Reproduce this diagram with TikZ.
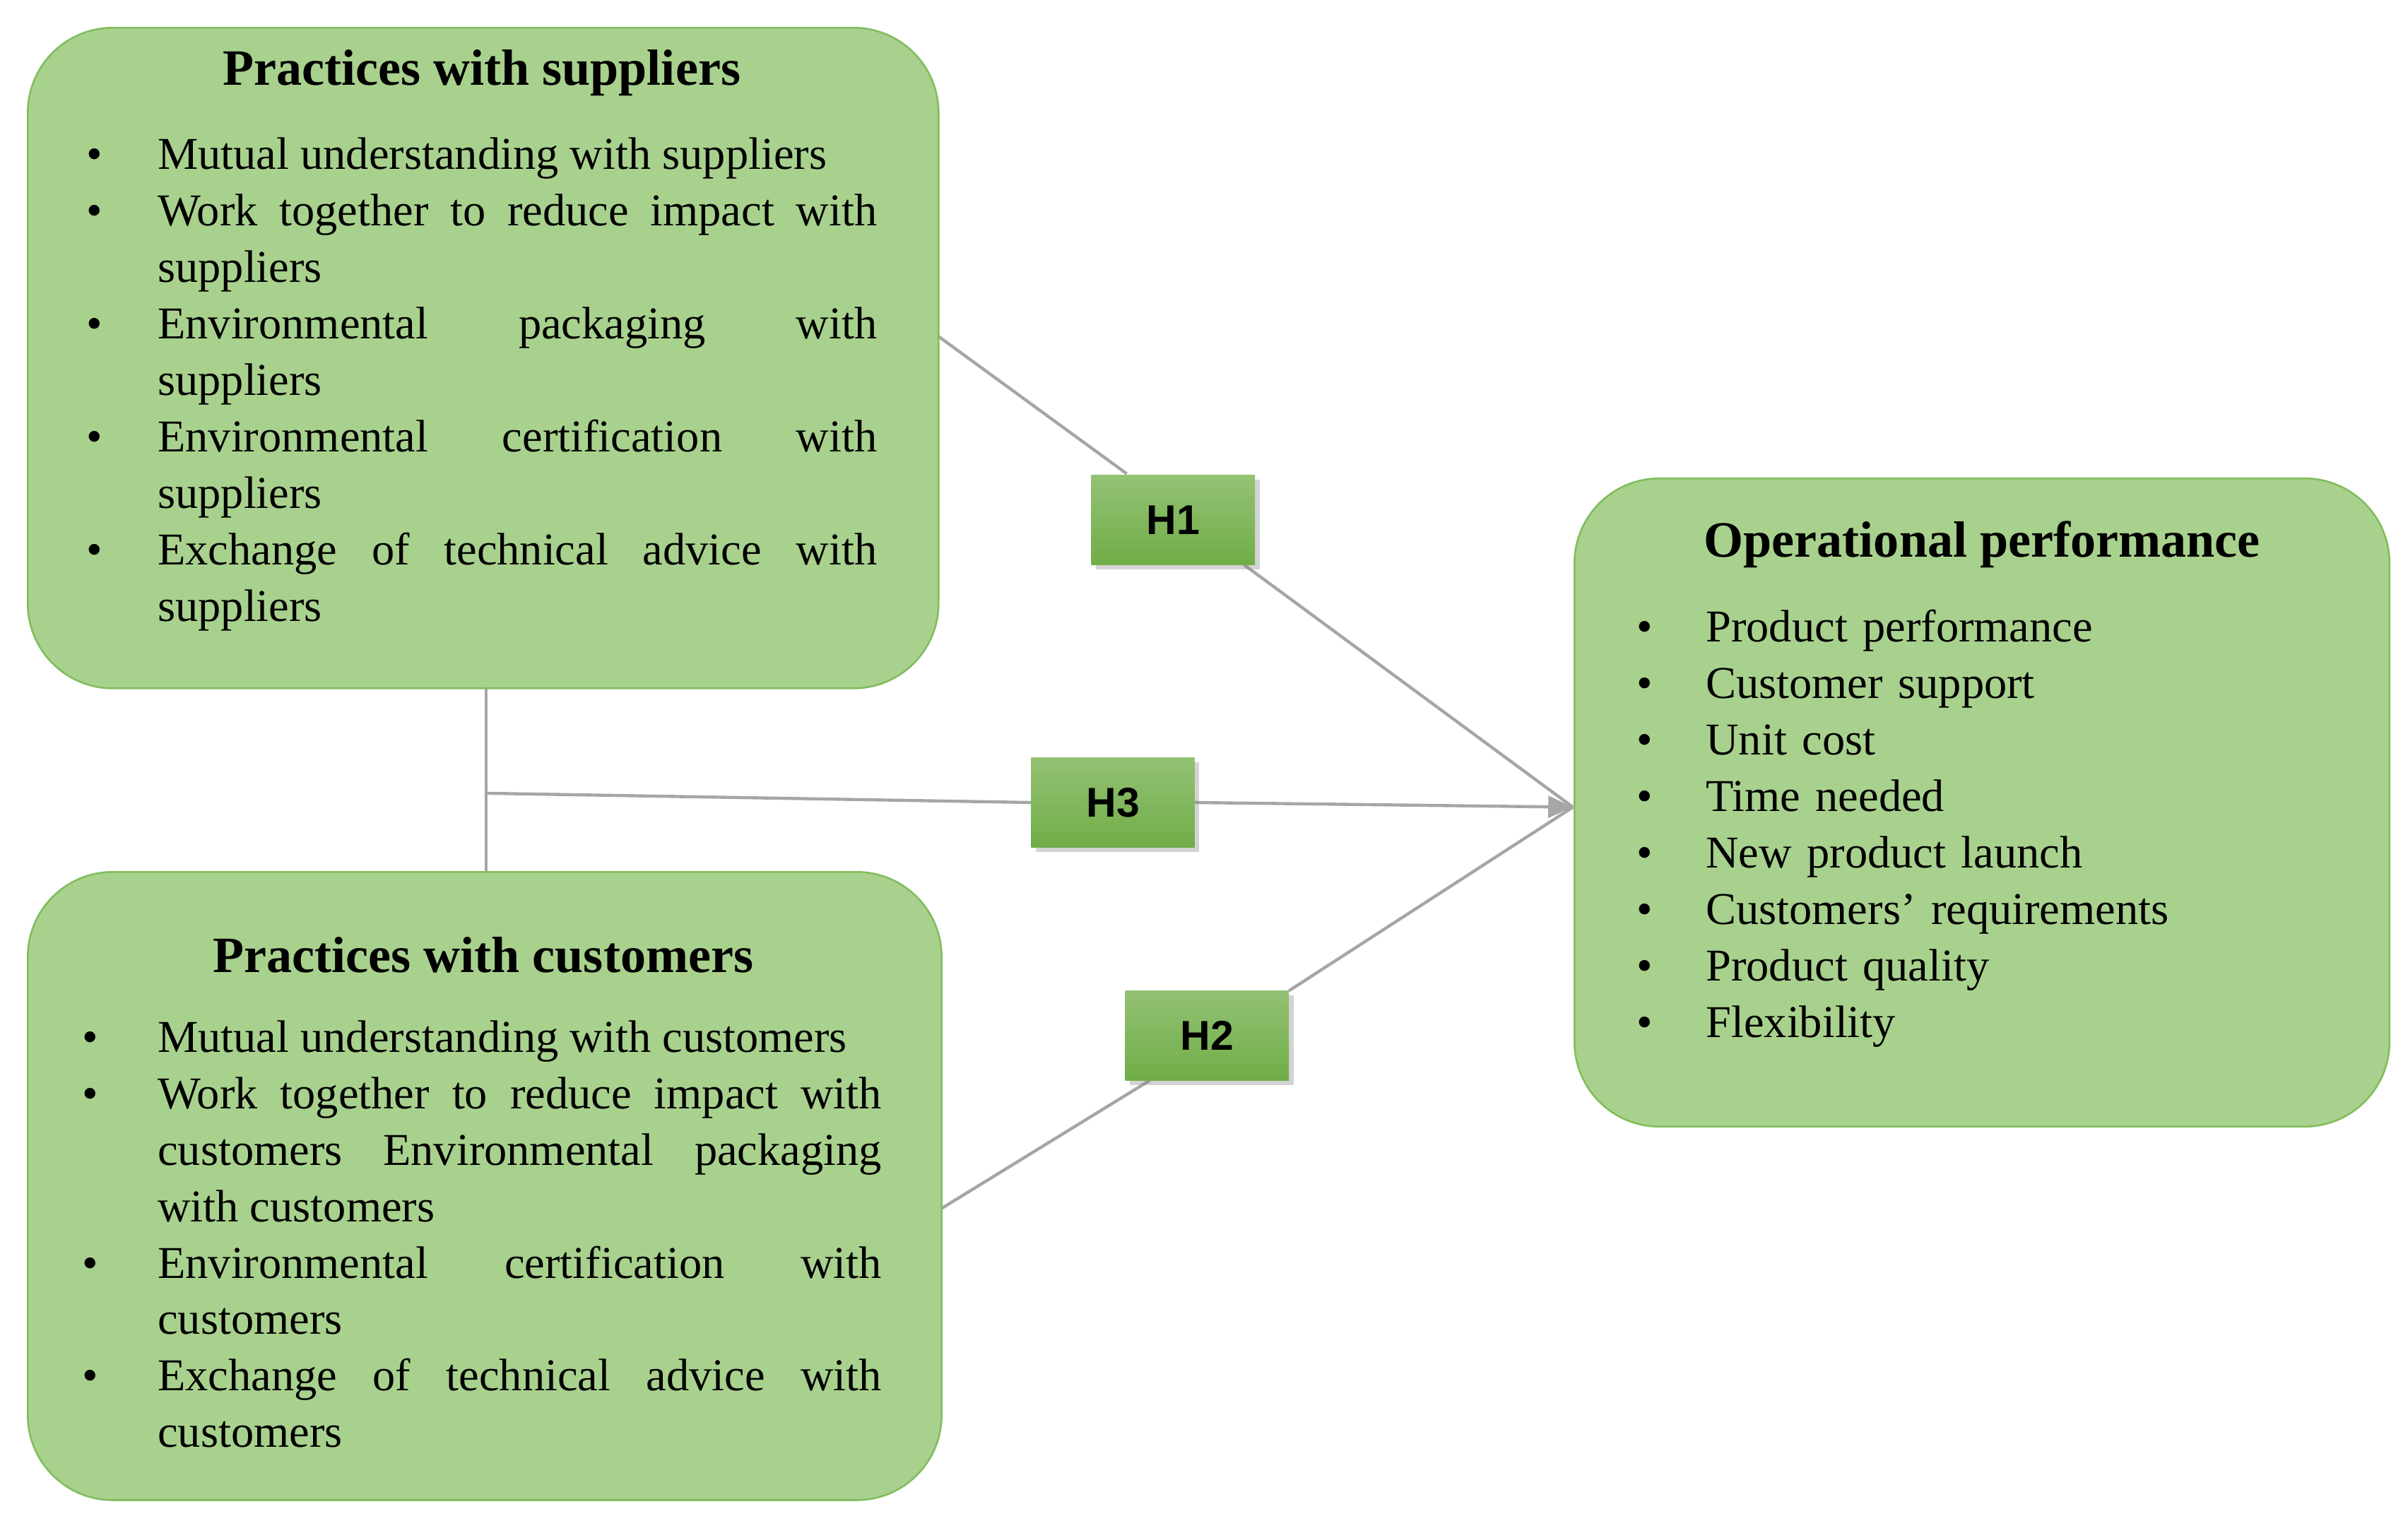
\documentclass[tikz,border=0pt]{standalone}
\usepackage{fontspec}
\setmainfont{Liberation Serif}
\newfontfamily\hfont{Liberation Sans}
\usetikzlibrary{shadows,arrows.meta,backgrounds}
\definecolor{boxfill}{HTML}{A9D18E}
\definecolor{boxline}{HTML}{82BD5E}
\definecolor{hfill}{HTML}{70AD47}
\definecolor{lnc}{HTML}{A6A6A6}
\newcommand{\nohy}{\hyphenpenalty=10000 \exhyphenpenalty=10000 }
\newcommand{\bit}[2][48pt]{\hangindent=#1\hangafter=1\noindent\makebox[#1][l]{\hspace{2pt}\textbullet}#2\par}
\tikzset{
 big/.style={draw=boxline,line width=1.2pt,fill=boxfill,rounded corners=55pt},
 hb/.style={draw=none,fill=hfill,minimum width=106pt,minimum height=58pt,inner sep=0pt,
   font=\hfont\bfseries\fontsize{27}{30}\selectfont,drop shadow={opacity=0.35,shadow xshift=3pt,shadow yshift=-3pt},
   top color=hfill!75!white,bottom color=hfill},
 ln/.style={draw=lnc,line width=2pt},
 ttl/.style={font=\bfseries\fontsize{33}{38}\selectfont},
 txt/.style={anchor=north west,inner sep=0pt,align=justify,font=\fontsize{29.5}{36.6}\selectfont}
}
\begin{document}
\begin{tikzpicture}[x=1pt,y=-1pt]
\useasboundingbox (0,0) rectangle (1560,982);
% boxes
\path[big] (18,18) rectangle (608,446);
\path[big] (18,565) rectangle (610,972);
\path[big] (1020,310) rectangle (1548,730);
% titles
\node[ttl] (ts) at (312,47) {Practices with suppliers};
\node[ttl] (tc) at (313,619) {Practices with customers};
\node[ttl] (to) at (1284,353) {Operational performance};
% lists
\node[txt,text width=514pt] (ls) at (54,89) {\nohy
\bit{Mutual understanding with suppliers}
\bit{Work together to reduce impact with suppliers}
\bit{Environmental packaging with suppliers}
\bit{Environmental certification with suppliers}
\bit{Exchange of technical advice with suppliers}};
\node[txt,text width=520pt] (lc) at (51,661) {\nohy
\bit[51pt]{Mutual understanding with customers}
\bit[51pt]{Work together to reduce impact with customers Environmental packaging with customers}
\bit[51pt]{Environmental certification with customers}
\bit[51pt]{Exchange of technical advice with customers}};
\node[txt,text width=440pt,align=left] (lo) at (1058,395) {\nohy
\bit[47pt]{Product performance}
\bit[47pt]{Customer support}
\bit[47pt]{Unit cost}
\bit[47pt]{Time needed}
\bit[47pt]{New product launch}
\bit[47pt]{Customers' requirements}
\bit[47pt]{Product quality}
\bit[47pt]{Flexibility}};
% hypothesis boxes
\node[hb] (h1) at (760,337) {H1};
\node[hb] (h3) at (721,520) {H3};
\node[hb] (h2) at (782,671) {H2};
% connectors
\coordinate (tip) at (1019,523);
\coordinate (s1) at (608,218);
\coordinate (c1) at (610,783);
\coordinate (v1) at (315,446);
\coordinate (v2) at (315,565);
\coordinate (j) at (315,514);
\coordinate (h1a) at (730,307);
\coordinate (h1b) at (806,366);
\coordinate (h2a) at (745,700);
\coordinate (h2b) at (835,642);
\begin{scope}[on background layer]
\draw[ln] (s1) -- (h1a);
\draw[ln] (h1b) -- (tip);
\draw[ln] (c1) -- (h2a);
\draw[ln] (h2b) -- (tip);
\draw[ln] (v1) -- (v2);
\draw[ln] (j) -- (h3.west);
\draw[ln,-{Triangle[length=16pt,width=14pt]}] (h3.east) -- (tip);
\end{scope}
\end{tikzpicture}
\end{document}
